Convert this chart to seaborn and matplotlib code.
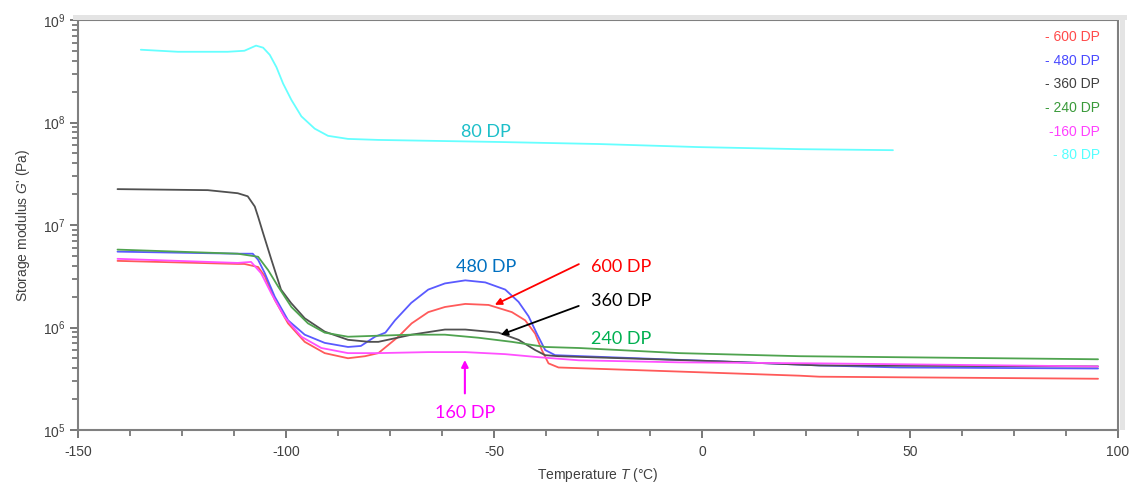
import numpy as np
import pandas as pd
import matplotlib
matplotlib.use("Agg")
import matplotlib.pyplot as plt
from matplotlib.patches import Rectangle
from matplotlib.ticker import FixedLocator, MultipleLocator, NullFormatter
import seaborn as sns

# ---- data (temperature °C, log10 G' in Pa) ----
T_600 = [-140.5, -111.6, -110.0, -106.7, -105.1, -102.7, -99.5, -95.5, -90.7, -85.1, -81.0, -77.8,
         -73.0, -69.8, -65.8, -61.8, -56.9, -51.3, -45.7, -42.5, -40.1, -38.5, -36.9, -34.5,
         -5.5, 23.4, 28.2, 95.2]
G_600 = [6.65, 6.62, 6.62, 6.59, 6.50, 6.27, 6.04, 5.86, 5.75, 5.70, 5.72, 5.75,
         5.91, 6.04, 6.15, 6.20, 6.23, 6.22, 6.15, 6.07, 5.94, 5.78, 5.65, 5.61,
         5.57, 5.53, 5.52, 5.50]

T_480 = [-140.5, -111.6, -108.0, -106.7, -105.1, -102.7, -99.5, -95.5, -90.7, -85.1, -82.0, -78.6,
         -76.1, -73.8, -69.9, -65.8, -61.8, -56.9, -52.1, -47.3, -44.1, -41.7, -39.7, -37.7,
         -35.3, 4.1, 28.2, 47.5, 95.2]
G_480 = [6.74, 6.72, 6.72, 6.66, 6.53, 6.30, 6.07, 5.93, 5.85, 5.81, 5.82, 5.91,
         5.95, 6.07, 6.24, 6.37, 6.43, 6.46, 6.44, 6.37, 6.25, 6.11, 5.94, 5.78,
         5.73, 5.67, 5.63, 5.61, 5.60]

T_360 = [-140.5, -118.8, -111.6, -109.2, -107.5, -106.7, -105.5, -103.5, -101.2, -98.8, -95.5, -90.7,
         -85.1, -80.0, -77.8, -69.8, -61.8, -56.9, -48.9, -44.1, -40.1, -37.7, -34.5, 4.1,
         28.2, 95.2]
G_360 = [7.35, 7.34, 7.31, 7.28, 7.18, 7.08, 6.92, 6.66, 6.37, 6.24, 6.09, 5.96,
         5.88, 5.86, 5.86, 5.93, 5.98, 5.98, 5.95, 5.88, 5.78, 5.73, 5.72, 5.67,
         5.63, 5.62]

T_240 = [-140.5, -111.6, -106.7, -104.3, -101.9, -98.7, -94.7, -90.7, -85.1, -77.8, -69.8, -61.8,
         -53.7, -45.7, -37.7, -29.6, -5.5, 23.4, 95.2]
G_240 = [6.76, 6.72, 6.69, 6.56, 6.40, 6.20, 6.04, 5.95, 5.91, 5.92, 5.93, 5.93,
         5.90, 5.86, 5.81, 5.80, 5.75, 5.72, 5.69]

T_160 = [-140.5, -111.6, -108.4, -106.0, -103.5, -100.3, -96.3, -91.5, -85.1, -77.8, -65.8, -56.9,
         -47.3, -39.2, -29.6, -5.5, 28.2, 95.2]
G_160 = [6.67, 6.63, 6.64, 6.53, 6.33, 6.10, 5.91, 5.80, 5.75, 5.75, 5.76, 5.76,
         5.74, 5.71, 5.68, 5.66, 5.65, 5.62]

T_80 = [-134.9, -126.0, -114.0, -110.0, -107.2, -105.5, -103.9, -102.3, -100.7, -98.7, -96.3, -93.1,
        -89.9, -85.1, -77.8, -48.9, -24.8, -0.7, 23.4, 45.9]
G_80 = [8.71, 8.69, 8.69, 8.70, 8.75, 8.73, 8.66, 8.54, 8.38, 8.22, 8.06, 7.94,
        7.87, 7.84, 7.83, 7.81, 7.79, 7.76, 7.74, 7.73]

series_names = ["600 DP", "480 DP", "360 DP", "240 DP", "160 DP", "80 DP"]
legend_labels = ["- 600 DP", "- 480 DP", "- 360 DP", "- 240 DP", "-160 DP", "- 80 DP"]
series_T = [T_600, T_480, T_360, T_240, T_160, T_80]
series_G = [G_600, G_480, G_360, G_240, G_160, G_80]
line_colors = ["#FF5a5a", "#5a5aFF", "#505050", "#4fa34f", "#FF50FF", "#66FFFF"]

x_ticks = [-150, -100, -50, 0, 50, 100]

frames = []
for name, t, g in zip(series_names, series_T, series_G):
    frames.append(pd.DataFrame({"T": t, "G": 10 ** np.array(g), "series": name}))
df = pd.concat(frames, ignore_index=True)

# ---- style ----
sns.set_style("ticks")
plt.rcParams["font.family"] = ["Liberation Sans", "DejaVu Sans"]
plt.rcParams["mathtext.fontset"] = "custom"
plt.rcParams["mathtext.rm"] = "Liberation Sans"
plt.rcParams["mathtext.it"] = "Liberation Sans:italic"
plt.rcParams["mathtext.default"] = "regular"

fig = plt.figure(figsize=(11.35, 4.84), dpi=100)
L, B = 78 / 1135, 54 / 484
W, H = (1118 - 78) / 1135, (430 - 20) / 484
ax = fig.add_axes([L, B, W, H])

# light 3D-ish border behind the frame
fig.patches.append(Rectangle((L - 0.004, B + H), W + 0.012, 5 / 484, transform=fig.transFigure,
                             facecolor="#e4e4e4", edgecolor="none", zorder=0))
fig.patches.append(Rectangle((L + W + 0.0015, B), 5 / 1135, H + 5 / 484, transform=fig.transFigure,
                             facecolor="#e4e4e4", edgecolor="none", zorder=0))

sns.lineplot(data=df, x="T", y="G", hue="series", hue_order=series_names,
             palette=dict(zip(series_names, line_colors)), estimator=None, sort=True,
             linewidth=1.3, legend=False, ax=ax)

ax.set_yscale("log")
ax.set_xlim(-150, 100)
ax.set_ylim(1e5, 1e9)
ax.set_xticks(x_ticks)
ax.set_xticklabels([str(v) for v in x_ticks])
ax.xaxis.set_minor_locator(MultipleLocator(12.5))
minor_y = [m * 10.0 ** e for e in range(5, 9) for m in range(2, 10)]
ax.yaxis.set_minor_locator(FixedLocator(minor_y))
ax.yaxis.set_minor_formatter(NullFormatter())
ax.tick_params(axis="both", which="major", direction="out", length=6, width=1.2,
               color="#606060", labelsize=10, labelcolor="#404040", pad=3)
ax.tick_params(axis="both", which="minor", direction="out", length=4, width=1.1, color="#606060")
ax.tick_params(axis="x", which="major", pad=5)
ax.tick_params(top=False, right=False, left=True, bottom=True, which="both")

for s in ax.spines.values():
    s.set_color("#808080")
    s.set_linewidth(1.5)

ax.set_xlabel("Temperature $\\it{T}$ (°C)", fontsize=10, color="#404040", labelpad=5)
ax.set_ylabel("Storage modulus $\\it{G}$' (Pa)", fontsize=10, color="#404040", labelpad=8)

# legend-like coloured labels at top right
leg_colors = ["#FF4a4a", "#4a4aFF", "#404040", "#3a9a3a", "#FF40FF", "#55FFFF"]
for i, (lab, c) in enumerate(zip(legend_labels, leg_colors)):
    ax.text(0.983, 0.958 - i * 0.0575, lab, transform=ax.transAxes, ha="right", va="center",
            fontsize=10, color=c, family=["Liberation Sans", "DejaVu Sans"])

# annotations
afont = ["Lato", "DejaVu Sans"]
ax.text(-52, 10 ** 7.91, "80 DP", color="#1dbfc9", fontsize=13, ha="center", va="center", family=afont)
ax.text(-52, 10 ** 6.59, "480 DP", color="#0070C0", fontsize=13, ha="center", va="center", family=afont)
ax.text(-19.5, 10 ** 6.59, "600 DP", color="#FF0000", fontsize=13, ha="center", va="center", family=afont)
ax.text(-19.5, 10 ** 6.26, "360 DP", color="#000000", fontsize=13, ha="center", va="center", family=afont)
ax.text(-19.5, 10 ** 5.89, "240 DP", color="#00B050", fontsize=13, ha="center", va="center", family=afont)
ax.text(-57, 10 ** 5.17, "160 DP", color="#FF00FF", fontsize=13, ha="center", va="center", family=afont)

ax.annotate("", xy=(-50.4, 10 ** 6.21), xytext=(-29.0, 10 ** 6.63),
            arrowprops=dict(arrowstyle="-|>", color="#FF0000", lw=1.3, mutation_scale=10))
ax.annotate("", xy=(-49.0, 10 ** 5.92), xytext=(-29.0, 10 ** 6.22),
            arrowprops=dict(arrowstyle="-|>", color="#000000", lw=1.3, mutation_scale=10))
ax.annotate("", xy=(-57.0, 10 ** 5.71), xytext=(-57.0, 10 ** 5.33),
            arrowprops=dict(arrowstyle="-|>", color="#FF00FF", lw=1.5, mutation_scale=10))

fig.savefig("out.png", dpi=100)
